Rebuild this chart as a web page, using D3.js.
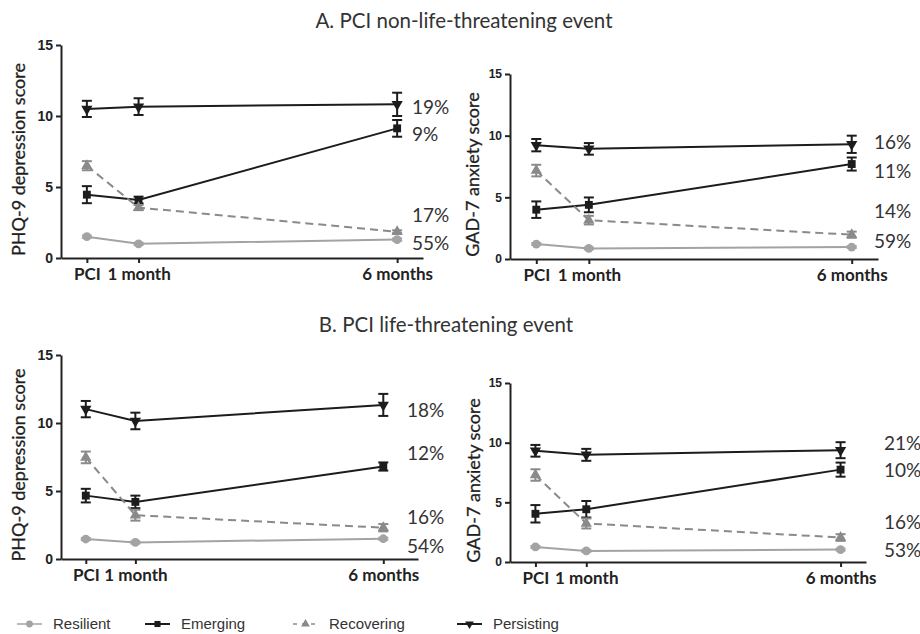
<!DOCTYPE html>
<html>
<head>
<meta charset="utf-8">
<script src="https://cdn.jsdelivr.net/npm/d3@7"></script>
<style>
  body { margin: 0; background: #fff; }
  svg { display: block; }
</style>
</head>
<body>
<svg id="chart"></svg>
<script>
// data
const timepoints = ['PCI', '1 month', '6 months']
const months = [0, 1, 6]
const groups = ['Resilient', 'Emerging', 'Recovering', 'Persisting']
const yTicks = [0, 5, 10, 15]

// A. non-life-threatening, PHQ-9 (rows follow groups)
const phqA = [[1.5, 1.0, 1.3], [4.46, 4.08, 9.13], [6.5, 3.55, 1.85], [10.5, 10.66, 10.82]]
const phqA_err = [[0.08, 0.08, 0.08], [0.6, 0.24, 0.59], [0.32, 0.18, 0.1], [0.57, 0.59, 0.82]]
const phqA_pct = ['55%', '9%', '17%', '19%']

// A. non-life-threatening, GAD-7
const gadA = [[1.21, 0.86, 0.97], [4.0, 4.39, 7.7], [7.17, 3.15, 1.97], [9.23, 8.93, 9.3]]
const gadA_err = [[0.08, 0.08, 0.08], [0.67, 0.6, 0.53], [0.47, 0.35, 0.25], [0.5, 0.47, 0.7]]
const gadA_pct = ['59%', '11%', '14%', '16%']

// B. life-threatening, PHQ-9
const phqB = [[1.47, 1.22, 1.49], [4.66, 4.2, 6.8], [7.47, 3.22, 2.3], [11.02, 10.15, 11.33]]
const phqB_err = [[0.08, 0.08, 0.08], [0.5, 0.46, 0.3], [0.43, 0.4, 0.27], [0.6, 0.61, 0.81]]
const phqB_pct = ['54%', '12%', '16%', '18%']

// B. life-threatening, GAD-7
const gadB = [[1.26, 0.93, 1.04], [4.04, 4.42, 7.74], [7.29, 3.23, 2.05], [9.32, 8.98, 9.37]]
const gadB_err = [[0.08, 0.08, 0.08], [0.73, 0.69, 0.59], [0.48, 0.42, 0.28], [0.49, 0.5, 0.67]]
const gadB_pct = ['53%', '10%', '16%', '21%']

const W = 920
const H = 634

const style = {
  Resilient: { color: '#a3a3a3', shape: d3.symbolCircle, size: 60, rot: 0, dash: null },
  Emerging: { color: '#1c1c1c', shape: d3.symbolSquare, size: 62, rot: 0, dash: null },
  Recovering: { color: '#8a8a8a', shape: d3.symbolTriangle, size: 55, rot: 0, dash: '8,5' },
  Persisting: { color: '#1c1c1c', shape: d3.symbolTriangle, size: 55, rot: 180, dash: null },
}

const panels = [
  { values: phqA, err: phqA_err, pct: phqA_pct, yTitle: 'PHQ-9 depression score',
    left: 61, right: 423, top: 45, bottom: 258, xDom: [-0.5, 6.5], tickFont: 14,
    titleX: 19, labelX: 412, labelY: [1.06, 8.73, 3.03, 10.63] },
  { values: gadA, err: gadA_err, pct: gadA_pct, yTitle: 'GAD-7 anxiety score',
    left: 510, right: 878, top: 74, bottom: 259, xDom: [-0.5, 6.5], tickFont: 12,
    titleX: 473, labelX: 874, labelY: [1.4, 7.08, 3.84, 9.43] },
  { values: phqB, err: phqB_err, pct: phqB_pct, yTitle: 'PHQ-9 depression score',
    left: 61, right: 418, top: 355, bottom: 559, xDom: [-0.5, 6.7], tickFont: 14,
    titleX: 19, labelX: 407, labelY: [0.9, 7.8, 3.03, 10.96] },
  { values: gadB, err: gadB_err, pct: gadB_pct, yTitle: 'GAD-7 anxiety score',
    left: 510, right: 866, top: 383, bottom: 562, xDom: [-0.5, 6.5], tickFont: 12,
    titleX: 474, labelX: 884, labelY: [0.98, 7.71, 3.34, 9.98] },
]

const svg = d3.select('#chart').attr('width', W).attr('height', H)
  .attr('viewBox', [0, 0, W, H])

const calibri = 'Lato, "Open Sans", sans-serif'

// section titles
svg.append('text').attr('x', 464).attr('y', 28).attr('text-anchor', 'middle')
  .attr('font-family', calibri).attr('font-size', 20.5).attr('fill', '#333')
  .text('A. PCI non-life-threatening event')
svg.append('text').attr('x', 446).attr('y', 332).attr('text-anchor', 'middle')
  .attr('font-family', calibri).attr('font-size', 20.5).attr('fill', '#333')
  .text('B. PCI life-threatening event')

panels.forEach((p) => {
  const x = d3.scaleLinear().domain(p.xDom).range([p.left, p.right])
  const y = d3.scaleLinear().domain([0, 15]).range([p.bottom, p.top])
  const g = svg.append('g')

  // y axis
  const ya = g.append('g')
    .attr('transform', `translate(${p.left},0)`)
    .call(d3.axisLeft(y).tickValues(yTicks).tickSize(5).tickSizeOuter(0).tickPadding(3))
  ya.selectAll('path, line').attr('stroke', '#222').attr('stroke-width', 2)
  ya.selectAll('text').attr('font-family', '"Liberation Sans", Arial, sans-serif')
    .attr('font-weight', 'bold').attr('font-size', p.tickFont).attr('fill', '#222')

  // x axis
  const xa = g.append('g')
    .attr('transform', `translate(0,${p.bottom})`)
    .call(d3.axisBottom(x).tickValues(months).tickSize(5).tickSizeOuter(0).tickPadding(5)
      .tickFormat((d, i) => timepoints[i]))
  xa.selectAll('path, line').attr('stroke', '#222').attr('stroke-width', 2)
  xa.selectAll('text').attr('font-family', calibri).attr('font-weight', 'bold')
    .attr('font-size', 17).attr('fill', '#222')

  // y title
  g.append('text')
    .attr('transform', `translate(${p.titleX},${(p.top + p.bottom) / 2 + 8}) rotate(-90)`)
    .attr('text-anchor', 'middle').attr('dy', '0.35em')
    .attr('font-family', calibri).attr('font-size', 18).attr('fill', '#1e1e1e')
    .attr('stroke', '#1e1e1e').attr('stroke-width', 0.3)
    .text(p.yTitle)

  // series
  groups.forEach((name, gi) => {
    const s = style[name]
    const pts = months.map((m, i) => ({ m, v: p.values[gi][i], e: p.err[gi][i] }))
    const sg = g.append('g')

    sg.append('path').datum(pts)
      .attr('fill', 'none').attr('stroke', s.color).attr('stroke-width', 2)
      .attr('stroke-dasharray', s.dash)
      .attr('d', d3.line().x((d) => x(d.m)).y((d) => y(d.v)))

    const eb = sg.selectAll('g.err').data(pts).join('g').attr('class', 'err')
      .attr('stroke', s.color).attr('stroke-width', 2)
    eb.append('line').attr('x1', (d) => x(d.m)).attr('x2', (d) => x(d.m))
      .attr('y1', (d) => y(d.v - d.e)).attr('y2', (d) => y(d.v + d.e))
    eb.append('line').attr('x1', (d) => x(d.m) - 5).attr('x2', (d) => x(d.m) + 5)
      .attr('y1', (d) => y(d.v + d.e)).attr('y2', (d) => y(d.v + d.e))
    eb.append('line').attr('x1', (d) => x(d.m) - 5).attr('x2', (d) => x(d.m) + 5)
      .attr('y1', (d) => y(d.v - d.e)).attr('y2', (d) => y(d.v - d.e))

    sg.selectAll('path.mark').data(pts).join('path').attr('class', 'mark')
      .attr('d', d3.symbol().type(s.shape).size(s.size))
      .attr('transform', (d) => `translate(${x(d.m)},${y(d.v)}) rotate(${s.rot})`)
      .attr('fill', s.color)

    // prevalence label
    g.append('text').attr('x', p.labelX).attr('y', y(p.labelY[gi]))
      .attr('dy', '0.35em').attr('font-family', calibri).attr('font-size', 19)
      .attr('fill', '#333').text(p.pct[gi])
  })
})

// legend
const legendX = [17, 145, 293, 457]
const legend = svg.append('g').attr('transform', 'translate(0,624)')
groups.forEach((name, i) => {
  const s = style[name]
  const lg = legend.append('g').attr('transform', `translate(${legendX[i]},0)`)
  if (s.dash) {
    lg.append('line').attr('x1', 0).attr('x2', 24).attr('stroke', s.color)
      .attr('stroke-width', 1.5).attr('stroke-dasharray', '4,5')
  } else {
    lg.append('line').attr('x1', 0).attr('x2', 25).attr('stroke', s.color)
      .attr('stroke-width', name === 'Resilient' ? 1.5 : 2)
  }
  lg.append('path').attr('d', d3.symbol().type(s.shape).size(s.size * 0.6))
    .attr('transform', `translate(12.5,0) rotate(${s.rot})`).attr('fill', s.color)
  lg.append('text').attr('x', 36).attr('dy', '0.35em')
    .attr('font-family', '"Liberation Sans", Arial, sans-serif').attr('font-size', 15)
    .attr('fill', '#333').text(name)
})
</script>
</body>
</html>
